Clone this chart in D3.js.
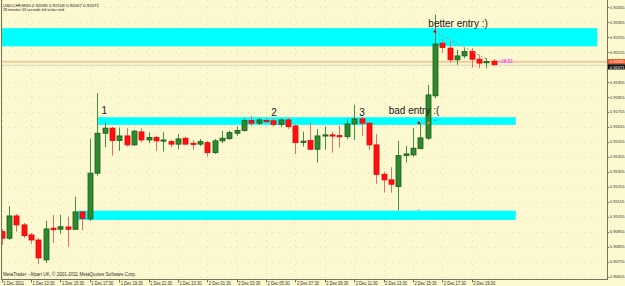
<!DOCTYPE html>
<html>
<head>
<meta charset="utf-8">
<script src="https://cdn.jsdelivr.net/npm/d3@7"></script>
<style>
  html, body { margin: 0; padding: 0; background: #fcf8d0; }
  svg { display: block; font-family: "Liberation Sans", Arial, sans-serif; }
</style>
</head>
<body>
<svg id="chart" width="625" height="286"></svg>
<script>
// USDCHF M30, bars from 1 Dec 2011 11:30
const opens = [0.90955,0.90911,0.91060,0.91000,0.90933,0.90899,0.90766,0.90978,0.90971,0.90986,
  0.90971,0.91087,0.91040,0.91346,0.91613,0.91647,0.91564,0.91595,0.91535,0.91622,
  0.91568,0.91584,0.91564,0.91557,0.91540,0.91580,0.91546,0.91540,0.91550,0.91483,
  0.91562,0.91577,0.91613,0.91631,0.91698,0.91680,0.91698,0.91696,0.91671,0.91702,
  0.91662,0.91553,0.91564,0.91506,0.91595,0.91602,0.91597,0.91590,0.91675,0.91709,
  0.91680,0.91535,0.91339,0.91301,0.91256,0.91463,0.91468,0.91510,0.91580,0.91863,
  0.92215,0.92182,0.92104,0.92130,0.92159,0.92108,0.92086,0.92095];
const highs = [0.90973,0.91127,0.91073,0.91013,0.90946,0.90913,0.91027,0.91067,0.91067,0.91055,
  0.91189,0.91093,0.91575,0.91881,0.91687,0.91655,0.91651,0.91647,0.91635,0.91647,
  0.91617,0.91595,0.91620,0.91568,0.91607,0.91590,0.91568,0.91575,0.91562,0.91575,
  0.91629,0.91629,0.91657,0.91714,0.91729,0.91716,0.91720,0.91714,0.91714,0.91714,
  0.91669,0.91624,0.91687,0.91640,0.91657,0.91624,0.91662,0.91707,0.91803,0.91722,
  0.91689,0.91607,0.91356,0.91386,0.91562,0.91528,0.91647,0.91680,0.91936,0.92405,
  0.92242,0.92231,0.92170,0.92182,0.92182,0.92137,0.92115,0.92109];
const lows = [0.90866,0.90899,0.90955,0.90913,0.90873,0.90739,0.90746,0.90879,0.90940,0.90855,
  0.90966,0.90966,0.91027,0.91328,0.91520,0.91463,0.91495,0.91524,0.91528,0.91553,
  0.91546,0.91495,0.91490,0.91520,0.91506,0.91535,0.91502,0.91528,0.91457,0.91475,
  0.91546,0.91568,0.91595,0.91624,0.91662,0.91669,0.91680,0.91657,0.91653,0.91642,
  0.91473,0.91524,0.91502,0.91417,0.91502,0.91483,0.91517,0.91573,0.91568,0.91595,
  0.91502,0.91274,0.91217,0.91216,0.91097,0.91417,0.91457,0.91506,0.91568,0.91847,
  0.92150,0.92082,0.92070,0.92115,0.92052,0.92048,0.92048,0.92067];
const closes = [0.90911,0.91060,0.91000,0.90928,0.90899,0.90779,0.90973,0.90968,0.90988,0.90971,
  0.91087,0.91042,0.91346,0.91613,0.91647,0.91564,0.91595,0.91535,0.91627,0.91568,
  0.91584,0.91562,0.91568,0.91540,0.91575,0.91540,0.91542,0.91557,0.91483,0.91562,
  0.91580,0.91617,0.91631,0.91698,0.91680,0.91702,0.91694,0.91671,0.91702,0.91657,
  0.91550,0.91560,0.91506,0.91595,0.91602,0.91598,0.91590,0.91675,0.91709,0.91680,
  0.91535,0.91338,0.91301,0.91272,0.91463,0.91475,0.91513,0.91582,0.91869,0.92209,
  0.92186,0.92104,0.92130,0.92159,0.92108,0.92082,0.92092,0.92071];

// one time label every 4 bars (2 hours)
const timeLabels = ["1 Dec 2011","1 Dec 13:30","1 Dec 15:30","1 Dec 17:30","1 Dec 19:30",
  "1 Dec 21:30","1 Dec 23:30","2 Dec 01:30","2 Dec 03:30","2 Dec 05:30","2 Dec 07:30",
  "2 Dec 09:30","2 Dec 11:30","2 Dec 13:30","2 Dec 15:30","2 Dec 17:30","2 Dec 19:30"];
const priceTicks = [0.92455,0.92355,0.92255,0.92155,0.92055,0.91955,0.91855,0.91755,0.91655,
  0.91555,0.91455,0.91355,0.91255,0.91155,0.91055,0.90955,0.90855,0.90755,0.90655];

// support / resistance zones: bar index span and price span
const zoneFrom = [-0.3, 13.0, 10.4];
const zoneTo   = [81.1, 70.0, 70.0];
const zoneHi   = [0.92316, 0.91720, 0.91095];
const zoneLo   = [0.92194, 0.91669, 0.91033];

const noteText  = ["1", "2", "3", "bad entry :(", "better entry :)"];
const noteBar   = [13.6, 36.7, 48.7, 52.7, 58.1];
const notePrice = [0.91742, 0.91729, 0.91729, 0.91742, 0.92322];

const askPrice = 0.92090;
const bidPrice = 0.92071;

const svg = d3.select("#chart");
const W = 625, H = 286;
const plotRight = 607, plotBottom = 279;

const x = d3.scaleLinear().domain([0, 67]).range([1.7, 493.7]);
const y = d3.scaleLinear().domain([0.90655, 0.92455]).range([276.5, 7.3]);

svg.append("rect").attr("width", W).attr("height", H).attr("fill", "#fcf8d0");

const plot = svg.append("g");
plot.append("clipPath").attr("id", "clip")
  .append("rect").attr("x", 1).attr("y", 0).attr("width", plotRight - 1).attr("height", plotBottom);

// dotted grid
const grid = plot.append("g").attr("stroke", "#dcd5a4").attr("stroke-width", 1)
  .attr("stroke-dasharray", "1,5").attr("opacity", 0.7);
grid.selectAll("line.h").data(priceTicks).join("line")
  .attr("x1", 2).attr("x2", plotRight)
  .attr("y1", d => Math.round(y(d)) + 0.5).attr("y2", d => Math.round(y(d)) + 0.5);
grid.selectAll("line.v").data(timeLabels).join("line")
  .attr("x1", (d, i) => Math.round(x(i * 4)) + 0.5).attr("x2", (d, i) => Math.round(x(i * 4)) + 0.5)
  .attr("y1", 0).attr("y2", plotBottom);

const clipped = plot.append("g").attr("clip-path", "url(#clip)");

// zones
clipped.selectAll("rect.zone").data(zoneFrom).join("rect")
  .attr("class", "zone")
  .attr("x", (d, i) => x(zoneFrom[i]))
  .attr("width", (d, i) => x(zoneTo[i]) - x(zoneFrom[i]))
  .attr("y", (d, i) => y(zoneHi[i]))
  .attr("height", (d, i) => y(zoneLo[i]) - y(zoneHi[i]))
  .attr("fill", "#00ffff");

// ask / bid lines
clipped.append("line").attr("x1", 1).attr("x2", plotRight)
  .attr("y1", y(bidPrice) + 0.5).attr("y2", y(bidPrice) + 0.5)
  .attr("stroke", "#d8d4c0").attr("stroke-width", 1);
clipped.append("line").attr("x1", 1).attr("x2", plotRight)
  .attr("y1", y(askPrice)).attr("y2", y(askPrice))
  .attr("stroke", "#f4a070").attr("stroke-width", 1);

// candles
const bars = d3.range(opens.length);
const candle = clipped.selectAll("g.candle").data(bars).join("g").attr("class", "candle");
candle.append("line")
  .attr("x1", i => Math.round(x(i)) + 0.5).attr("x2", i => Math.round(x(i)) + 0.5)
  .attr("y1", i => y(highs[i])).attr("y2", i => y(lows[i]))
  .attr("stroke", i => closes[i] >= opens[i] ? "#3c943c" : "#e07070")
  .attr("stroke-width", 1);
candle.append("rect")
  .attr("x", i => Math.round(x(i)) - 2)
  .attr("width", 5)
  .attr("y", i => y(Math.max(opens[i], closes[i])))
  .attr("height", i => Math.max(1.2, Math.abs(y(opens[i]) - y(closes[i]))))
  .attr("fill", i => closes[i] >= opens[i] ? "#2f8a2f" : "#ff1010")
  .attr("stroke", i => closes[i] >= opens[i] ? "#195c19" : "#ee0000")
  .attr("stroke-width", 0.8);

// entry markers
const better = { bar: 59, price: 0.92293 };
const betterEnd = { bar: 66.2, price: 0.92104 };
clipped.append("line")
  .attr("x1", x(better.bar)).attr("y1", y(better.price))
  .attr("x2", x(betterEnd.bar)).attr("y2", y(betterEnd.price))
  .attr("stroke", "#e07a7a").attr("stroke-width", 1).attr("stroke-dasharray", "2,2");
clipped.append("circle").attr("cx", x(better.bar)).attr("cy", y(better.price))
  .attr("r", 1.3).attr("fill", "#e00000");

const bad = { bar: 56.8, price: 0.91682 };
clipped.append("line")
  .attr("x1", x(bad.bar)).attr("y1", y(bad.price))
  .attr("x2", x(58.1)).attr("y2", y(bad.price))
  .attr("stroke", "#d08080").attr("stroke-width", 0.8).attr("stroke-dasharray", "1.5,1.5");
clipped.append("circle").attr("cx", x(bad.bar)).attr("cy", y(bad.price))
  .attr("r", 1.3).attr("fill", "#e00000");
clipped.append("path")
  .attr("d", `M${x(58.0)},${y(bad.price) - 2}l2.5,2l-2.5,2z`)
  .attr("fill", "#e0a020");
clipped.append("line")
  .attr("x1", x(59.0) - 1).attr("x2", x(59.0) + 2)
  .attr("y1", y(0.91700)).attr("y2", y(0.91700))
  .attr("stroke", "#4060e0").attr("stroke-width", 0.8);
clipped.append("line")
  .attr("x1", x(56.6)).attr("x2", x(56.6) + 3)
  .attr("y1", y(0.91100)).attr("y2", y(0.91100))
  .attr("stroke", "#a0a0d0").attr("stroke-width", 1);

// bar countdown next to last candle
clipped.append("text")
  .attr("x", x(67) + 5).attr("y", y(askPrice) + 1.5)
  .attr("font-size", 4.5).attr("fill", "#ff00ff")
  .text("<28:53");

// annotations
clipped.selectAll("text.note").data(noteText).join("text")
  .attr("class", "note")
  .attr("x", (d, i) => x(noteBar[i]))
  .attr("y", (d, i) => y(notePrice[i]))
  .attr("font-size", 10).attr("fill", "#202020")
  .text(d => d);

// frame
plot.append("line").attr("x1", 1.5).attr("x2", 1.5).attr("y1", 0).attr("y2", plotBottom)
  .attr("stroke", "#77735a");
plot.append("line").attr("x1", 1).attr("x2", plotRight).attr("y1", plotBottom + 0.5).attr("y2", plotBottom + 0.5)
  .attr("stroke", "#77735a");
plot.append("line").attr("x1", plotRight + 0.5).attr("x2", plotRight + 0.5).attr("y1", 0).attr("y2", plotBottom + 1)
  .attr("stroke", "#77735a");

// price axis
const fmt = d3.format(".5f");
const pAxis = svg.append("g");
pAxis.selectAll("line").data(priceTicks).join("line")
  .attr("x1", plotRight).attr("x2", plotRight + 2)
  .attr("y1", d => Math.round(y(d)) + 0.5).attr("y2", d => Math.round(y(d)) + 0.5)
  .attr("stroke", "#77735a");
pAxis.selectAll("text").data(priceTicks).join("text")
  .attr("x", plotRight + 2.8).attr("y", d => y(d) + 1.5)
  .attr("font-size", 4.1).attr("fill", "#303030")
  .text(d => fmt(d));

// ask / bid tags
svg.append("rect").attr("x", plotRight + 1).attr("y", y(askPrice) - 2.8).attr("width", 17).attr("height", 5.2)
  .attr("fill", "#f05020");
svg.append("text").attr("x", plotRight + 2.8).attr("y", y(askPrice) + 1.5)
  .attr("font-size", 4.1).attr("fill", "#ffffff").text(fmt(askPrice));
svg.append("rect").attr("x", plotRight + 1).attr("y", y(askPrice) + 2.4).attr("width", 17).attr("height", 5.2)
  .attr("fill", "#101010");
svg.append("text").attr("x", plotRight + 2.8).attr("y", y(askPrice) + 6.7)
  .attr("font-size", 4.1).attr("fill", "#ffffff").text(fmt(bidPrice));

// time axis
const tAxis = svg.append("g");
tAxis.selectAll("line").data(timeLabels).join("line")
  .attr("x1", (d, i) => Math.round(x(i * 4)) + 0.5).attr("x2", (d, i) => Math.round(x(i * 4)) + 0.5)
  .attr("y1", plotBottom).attr("y2", plotBottom + 3.5)
  .attr("stroke", "#77735a");
tAxis.selectAll("text").data(timeLabels).join("text")
  .attr("x", (d, i) => x(i * 4) + 1.5).attr("y", 285)
  .attr("font-size", 4.6).attr("fill", "#303030")
  .attr("textLength", (d, i) => i === 0 ? 21 : 22).attr("lengthAdjust", "spacingAndGlyphs")
  .text(d => d);

// header and copyright
svg.append("text").attr("x", 3).attr("y", 7.3).attr("font-size", 4.2).attr("fill", "#202020")
  .attr("textLength", 96).attr("lengthAdjust", "spacingAndGlyphs")
  .text("USDCHF,M30  0.92095 0.92109 0.92067 0.92071");
svg.append("text").attr("x", 3).attr("y", 10.9).attr("font-size", 4.2).attr("fill", "#202020")
  .attr("textLength", 61).attr("lengthAdjust", "spacingAndGlyphs")
  .text("28 minutes 53 seconds left to bar end");
svg.append("text").attr("x", 3).attr("y", 275.5).attr("font-size", 4.6).attr("fill", "#303030")
  .attr("textLength", 133).attr("lengthAdjust", "spacingAndGlyphs")
  .text("MetaTrader - Alpari UK, \u00a9 2001-2011 MetaQuotes Software Corp.");
</script>
</body>
</html>
